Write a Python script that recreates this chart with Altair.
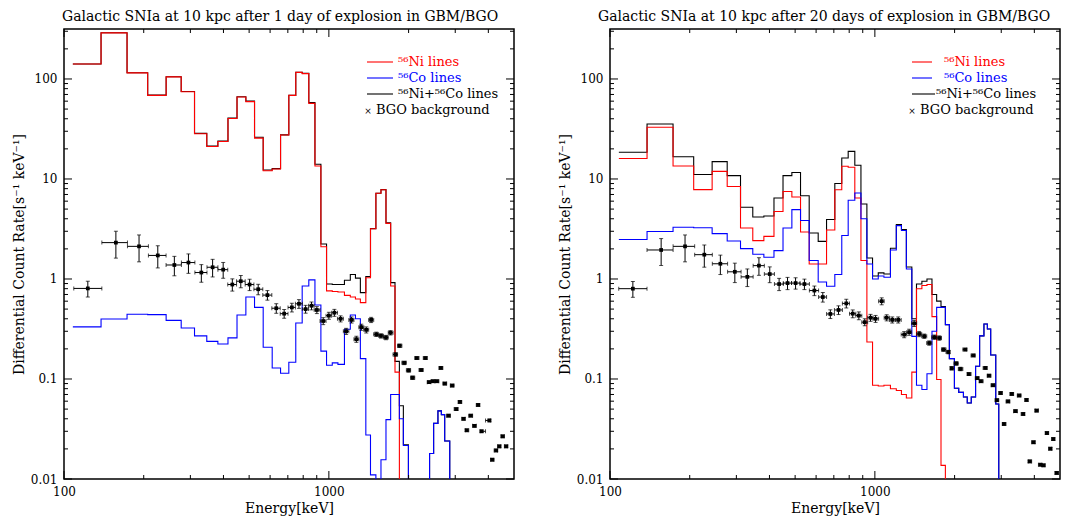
import math
import altair as alt
import pandas as pd

# ---------------- data ----------------
EDGES = [108, 138, 173, 207, 243, 277, 311, 346, 381, 416,
         450, 486, 524, 565, 611, 657, 706, 750, 793, 840,
         886, 933, 980, 1030, 1082, 1145, 1205, 1260, 1315, 1379,
         1436, 1505, 1573, 1643, 1711, 1777, 1846, 1911, 1997, 2073,
         2160, 2233, 2312, 2400, 2486, 2581, 2659, 2737, 2860, 2936]

NI_1D = [141, 289, 115, 68.5, 105, 74.6, 28.3, 21.1, 23.7, 40.3,
         66, 59.3, 25.6, 12.1, 12.6, 27.5, 68.5, 116.5, 113, 57,
         13.5, 2.1, 0.76, 0.75, 0.74, 0.685, 0.66, 0.63, 0.58, 1.03,
         3.18, 7.2, 7.8, 3.6, 0.85, 0.117, 0.001, 0.001, 0.001, 0.001,
         0.001, 0.001, 0.001, 0.001, 0.001, 0.001, 0.001, 0.001, 0.001, 0.001]
CO_1D = [0.332, 0.398, 0.444, 0.44, 0.386, 0.323, 0.27, 0.238, 0.224, 0.258,
         0.437, 0.66, 0.52, 0.208, 0.129, 0.114, 0.147, 0.363, 0.85, 0.98,
         0.55, 0.19, 0.137, 0.145, 0.14, 0.314, 0.437, 0.40, 0.16, 0.0275,
         0.011, 0.004, 0.0156, 0.0392, 0.07, 0.07, 0.04, 0.0216, 0.006, 0.003,
         0.003, 0.003, 0.006, 0.018, 0.036, 0.048, 0.044, 0.024, 0.0075, 0.001]
SUM_1D = [141.3, 289.4, 115.4, 69.0, 105.4, 75.0, 28.6, 21.3, 23.9, 40.6,
          66.4, 60.0, 26.1, 12.3, 12.7, 27.6, 68.6, 116.9, 113.9, 58.0,
          14.05, 2.24, 0.89, 0.88, 0.88, 0.97, 1.11, 1.02, 0.73, 1.06,
          3.19, 7.2, 7.82, 3.64, 0.92, 0.15, 0.054, 0.022, 0.006, 0.003,
          0.003, 0.003, 0.006, 0.018, 0.036, 0.048, 0.044, 0.024, 0.0075, 0.001]

NI_20D = [16.0, 32.9, 13.5, 7.83, 11.9, 8.4, 3.24, 2.42, 2.67, 4.73,
          7.5, 6.6, 2.95, 1.41, 1.41, 3.09, 7.8, 13.4, 13.1, 6.46,
          1.53, 0.234, 0.0865, 0.085, 0.0865, 0.080, 0.0766, 0.070, 0.0646, 0.117,
          0.80, 0.86, 0.88, 0.42, 0.099, 0.0137, 0.001, 0.001, 0.001, 0.001,
          0.001, 0.001, 0.001, 0.001, 0.001, 0.001, 0.001, 0.001, 0.001, 0.001]
CO_20D = [2.48, 2.98, 3.29, 3.25, 2.84, 2.40, 2.01, 1.77, 1.65, 1.92,
          3.24, 4.94, 3.84, 1.53, 0.933, 0.846, 1.11, 2.72, 6.12, 7.24,
          4.0, 1.41, 1.0, 1.07, 1.04, 1.95, 3.42, 3.05, 1.26, 0.267,
          0.0865, 0.0786, 0.113, 0.30, 0.52, 0.52, 0.35, 0.16, 0.0807, 0.0735,
          0.066, 0.0575, 0.066, 0.134, 0.27, 0.355, 0.316, 0.174, 0.0562, 0.001]
SUM_20D = [18.5, 35.5, 16.7, 11.1, 14.9, 10.8, 5.21, 4.17, 4.27, 6.46,
           10.8, 11.6, 6.8, 2.88, 2.38, 3.93, 9.0, 16.2, 18.9, 13.7,
           5.62, 1.62, 1.07, 1.15, 1.12, 2.03, 3.5, 3.12, 1.32, 0.40,
           0.89, 0.95, 1.0, 0.70, 0.60, 0.53, 0.35, 0.16, 0.0807, 0.0735,
           0.066, 0.0575, 0.066, 0.134, 0.27, 0.355, 0.316, 0.174, 0.0562, 0.001]

BG1_E = [123, 157, 192, 226, 261, 295, 330, 364, 399, 432,
         465, 502, 541, 586, 633, 678, 725, 771, 817, 860,
         901, 952, 1000, 1049, 1107, 1162, 1218, 1270, 1326, 1384,
         1444, 1510, 1573, 1643, 1709, 1785, 1850, 1924, 2000, 2071,
         2149, 2230, 2315, 2388, 2471, 2558, 2648, 2740, 2830, 2920,
         3026, 3125, 3226, 3315, 3433, 3545, 3660, 3775, 4036, 4135,
         4280, 4400, 4530, 4670]
BG1_V = [0.805, 2.31, 2.12, 1.72, 1.38, 1.46, 1.16, 1.31, 1.24, 0.88,
         0.95, 0.88, 0.79, 0.69, 0.51, 0.45, 0.52, 0.565, 0.50, 0.54,
         0.49, 0.38, 0.43, 0.46, 0.40, 0.30, 0.39, 0.25, 0.33, 0.31,
         0.39, 0.28, 0.27, 0.26, 0.29, 0.176, 0.215, 0.145, 0.122, 0.103,
         0.162, 0.123, 0.162, 0.093, 0.095, 0.095, 0.129, 0.090, 0.043, 0.086,
         0.050, 0.059, 0.040, 0.0307, 0.043, 0.034, 0.055, 0.030, 0.0385, 0.0156,
         0.0193, 0.0212, 0.0267, 0.0212]
BG1_R = [0.18, 0.30, 0.30, 0.25, 0.22, 0.22, 0.20, 0.20, 0.18, 0.14,
         0.14, 0.13, 0.12, 0.11, 0.11, 0.10, 0.10, 0.10, 0.09, 0.09,
         0.08, 0.08, 0.08, 0.08, 0.07, 0.07, 0.07, 0.07, 0.07, 0.07,
         0.06, 0.05, 0.05, 0.05, 0.05, 0.04, 0.04, 0.04, 0.04, 0.04,
         0.03, 0.03, 0.03, 0.03, 0.03, 0.03, 0.03, 0.03, 0.03, 0.03,
         0.03, 0.03, 0.03, 0.03, 0.03, 0.03, 0.03, 0.03, 0.03, 0.03,
         0.03, 0.03, 0.03, 0.03]

BG20_E = [122, 156, 192, 227, 261, 296, 330, 365, 401, 435,
          468, 502, 542, 591, 636, 679, 729, 780, 825, 870,
          916, 963, 1006, 1061, 1108, 1163, 1225, 1290, 1347, 1407,
          1470, 1536, 1604, 1676, 1751, 1818, 1895, 1950, 2027, 2105,
          2193, 2264, 2352, 2436, 2514, 2613, 2697, 2793, 2890, 2983,
          3072, 3183, 3288, 3395, 3505, 3630, 3737, 3842, 3974, 4076,
          4217, 4330, 4462, 4600, 4715, 4858]
BG20_V = [0.80, 1.95, 2.12, 1.75, 1.42, 1.18, 1.05, 1.36, 1.12, 0.89,
          0.91, 0.91, 0.89, 0.766, 0.66, 0.447, 0.49, 0.57, 0.45, 0.43,
          0.37, 0.41, 0.40, 0.60, 0.41, 0.39, 0.39, 0.278, 0.294, 0.36,
          0.282, 0.268, 0.229, 0.262, 0.257, 0.197, 0.186, 0.128, 0.143, 0.126,
          0.197, 0.112, 0.172, 0.102, 0.095, 0.129, 0.108, 0.0866, 0.0614, 0.0724,
          0.0355, 0.0597, 0.0709, 0.0477, 0.0684, 0.0447, 0.0617, 0.0150, 0.0233, 0.0483,
          0.0139, 0.0137, 0.0288, 0.0201, 0.0251, 0.0115]
BG20_R = [0.18, 0.30, 0.30, 0.25, 0.22, 0.22, 0.20, 0.20, 0.18, 0.14,
          0.14, 0.13, 0.12, 0.11, 0.11, 0.10, 0.10, 0.10, 0.09, 0.09,
          0.08, 0.08, 0.08, 0.08, 0.07, 0.07, 0.07, 0.07, 0.07, 0.07,
          0.06, 0.05, 0.05, 0.05, 0.05, 0.04, 0.04, 0.04, 0.04, 0.04,
          0.03, 0.03, 0.03, 0.03, 0.03, 0.03, 0.03, 0.03, 0.03, 0.03,
          0.03, 0.03, 0.03, 0.03, 0.03, 0.03, 0.03, 0.03, 0.03, 0.03,
          0.03, 0.03, 0.03, 0.03, 0.03, 0.03]

X_MAJOR = [100, 1000]
X_MINOR = [200, 300, 400, 500, 600, 700, 800, 900, 2000, 3000, 4000]
Y_MAJOR = [0.01, 0.1, 1, 10, 100]
Y_MINOR = [0.02, 0.03, 0.04, 0.05, 0.06, 0.07, 0.08, 0.09,
           0.2, 0.3, 0.4, 0.5, 0.6, 0.7, 0.8, 0.9,
           2, 3, 4, 5, 6, 7, 8, 9,
           20, 30, 40, 50, 60, 70, 80, 90, 200, 300]

TITLE_1D = "Galactic SNIa at 10 kpc after 1 day of explosion in GBM/BGO"
TITLE_20D = "Galactic SNIa at 10 kpc after 20 days of explosion in GBM/BGO"

# ---------------- styling ----------------
W, H = 450, 450
FONT = "DejaVu Serif"
RED, BLUE, BLACK = "#ff0000", "#0000ff", "#000000"
XS = alt.Scale(type="log", domain=[100, 5000], nice=False)
YS = alt.Scale(type="log", domain=[0.01, 316], nice=False)

AX_X = alt.Axis(values=X_MAJOR, format="d", ticks=False, domain=False, grid=False,
                labelFlush=False, labelFont=FONT, labelFontSize=12, labelColor=BLACK,
                labelPadding=7, title="Energy[keV]", titleFont=FONT, titleFontSize=14,
                titleFontWeight="normal", titleColor=BLACK, titlePadding=4)
AX_Y = alt.Axis(values=Y_MAJOR, format="~g", ticks=False, domain=False, grid=False,
                labelFlush=False, labelFont=FONT, labelFontSize=12, labelColor=BLACK,
                labelPadding=7, title="Differential Count Rate[s⁻¹ keV⁻¹]",
                titleFont=FONT, titleFontSize=14, titleFontWeight="normal",
                titleColor=BLACK, titlePadding=4)


def X(f):
    return alt.X(f + ":Q", scale=XS, axis=AX_X)


def Y(f):
    return alt.Y(f + ":Q", scale=YS, axis=AX_Y)


def step_layer(vals, color):
    df = pd.DataFrame({"E": EDGES, "v": vals})
    return alt.Chart(df).mark_line(interpolate="step-after", color=color,
                                   strokeWidth=1.1, clip=True).encode(x=X("E"), y=Y("v"))


def bg_layers(E, V, R):
    n = len(E)
    xlo, xhi = [], []
    for i in range(n):
        hi = math.sqrt(E[i] * E[i + 1]) if i < n - 1 else None
        lo = math.sqrt(E[i] * E[i - 1]) if i > 0 else None
        if lo is None:
            lo = E[i] * E[i] / hi
        if hi is None:
            hi = E[i] * E[i] / lo
        xlo.append(lo)
        xhi.append(hi)
    df = pd.DataFrame({"E": E, "v": V,
                       "lo": [v * (1 - r) for v, r in zip(V, R)],
                       "hi": [v * (1 + r) for v, r in zip(V, R)],
                       "xlo": xlo, "xhi": xhi})
    base = alt.Chart(df)
    vbar = base.mark_rule(color=BLACK, strokeWidth=1, clip=True).encode(
        x=X("E"), y=Y("lo"), y2="hi:Q")
    hbar = base.mark_rule(color=BLACK, strokeWidth=1, clip=True).encode(
        x=X("xlo"), x2="xhi:Q", y=Y("v"))
    cap_lo = base.mark_tick(color=BLACK, orient="horizontal", size=4, thickness=1,
                            clip=True).encode(x=X("E"), y=Y("lo"))
    cap_hi = base.mark_tick(color=BLACK, orient="horizontal", size=4, thickness=1,
                            clip=True).encode(x=X("E"), y=Y("hi"))
    cap_l = base.mark_tick(color=BLACK, orient="vertical", size=4, thickness=1,
                           clip=True).encode(x=X("xlo"), y=Y("v"))
    cap_r = base.mark_tick(color=BLACK, orient="vertical", size=4, thickness=1,
                           clip=True).encode(x=X("xhi"), y=Y("v"))
    pts = base.mark_square(color=BLACK, filled=True, size=14, opacity=1,
                           clip=True).encode(x=X("E"), y=Y("v"))
    return [vbar, hbar, cap_lo, cap_hi, cap_l, cap_r, pts]


def frame_ticks():
    layers = []
    for vals, L in ((X_MAJOR, 8), (X_MINOR, 4)):
        df = pd.DataFrame({"t": vals})
        layers.append(alt.Chart(df).mark_rule(color=BLACK, strokeWidth=1).encode(
            x=X("t"), y=alt.value(H), y2=alt.value(H - L)))
        layers.append(alt.Chart(df).mark_rule(color=BLACK, strokeWidth=1).encode(
            x=X("t"), y=alt.value(0), y2=alt.value(L)))
    for vals, L in ((Y_MAJOR, 8), (Y_MINOR, 4)):
        df = pd.DataFrame({"t": vals})
        layers.append(alt.Chart(df).mark_rule(color=BLACK, strokeWidth=1).encode(
            y=Y("t"), x=alt.value(0), x2=alt.value(L)))
        layers.append(alt.Chart(df).mark_rule(color=BLACK, strokeWidth=1).encode(
            y=Y("t"), x=alt.value(W), x2=alt.value(W - L)))
    return layers


def legend(rows):
    layers = []
    one = pd.DataFrame({"a": [0]})
    for r in rows:
        if r.get("line"):
            x1, x2 = r["line"]
            layers.append(alt.Chart(one).mark_rule(color=r["color"], strokeWidth=1.1).encode(
                x=alt.value(x1), x2=alt.value(x2), y=alt.value(r["y"])))
        if r.get("mark"):
            layers.append(alt.Chart(pd.DataFrame({"t": ["×"]})).mark_text(
                font=FONT, fontSize=9, color=BLACK, align="center", baseline="middle").encode(
                text="t:N", x=alt.value(r["mark"]), y=alt.value(r["y"] + 1)))
        layers.append(alt.Chart(pd.DataFrame({"t": [r["text"]]})).mark_text(
            font=FONT, fontSize=13, color=r["color"], align="left", baseline="middle").encode(
            text="t:N", x=alt.value(r["tx"]), y=alt.value(r["y"])))
    return layers


def panel(ni, co, su, bgE, bgV, bgR, title, dx, rows):
    layers = [step_layer(su, BLACK), step_layer(ni, RED), step_layer(co, BLUE)]
    layers += bg_layers(bgE, bgV, bgR)
    layers += frame_ticks()
    layers += legend(rows)
    return alt.layer(*layers).properties(
        width=W, height=H,
        title=alt.Title(title, font=FONT, fontSize=14, fontWeight="normal",
                        color=BLACK, anchor="start", frame="group", dx=dx, dy=-2,
                        offset=3))


rows_left = [
    {"line": (303, 329), "color": RED, "text": "⁵⁶Ni lines", "tx": 334, "y": 33},
    {"line": (303, 329), "color": BLUE, "text": "⁵⁶Co lines", "tx": 334, "y": 49},
    {"line": (303, 329), "color": BLACK, "text": "⁵⁶Ni+⁵⁶Co lines", "tx": 334, "y": 65},
    {"mark": 304, "color": BLACK, "text": "BGO background", "tx": 312, "y": 81},
]
rows_right = [
    {"line": (302, 322), "color": RED, "text": "⁵⁶Ni lines", "tx": 334, "y": 33},
    {"line": (302, 322), "color": BLUE, "text": "⁵⁶Co lines", "tx": 334, "y": 49},
    {"line": (302, 325), "color": BLACK, "text": "⁵⁶Ni+⁵⁶Co lines", "tx": 326, "y": 65},
    {"mark": 302, "color": BLACK, "text": "BGO background", "tx": 310, "y": 81},
]

left = panel(NI_1D, CO_1D, SUM_1D, BG1_E, BG1_V, BG1_R, TITLE_1D, -2, rows_left)
right = panel(NI_20D, CO_20D, SUM_20D, BG20_E, BG20_V, BG20_R, TITLE_20D, -12, rows_right)

chart = alt.hconcat(left, right, spacing=41).properties(
    padding={"left": 3, "top": 0, "right": 0, "bottom": 0}
).configure_view(stroke=BLACK, strokeWidth=1.5)

chart.save("out.html", embed_options={"renderer": "svg", "actions": False})
